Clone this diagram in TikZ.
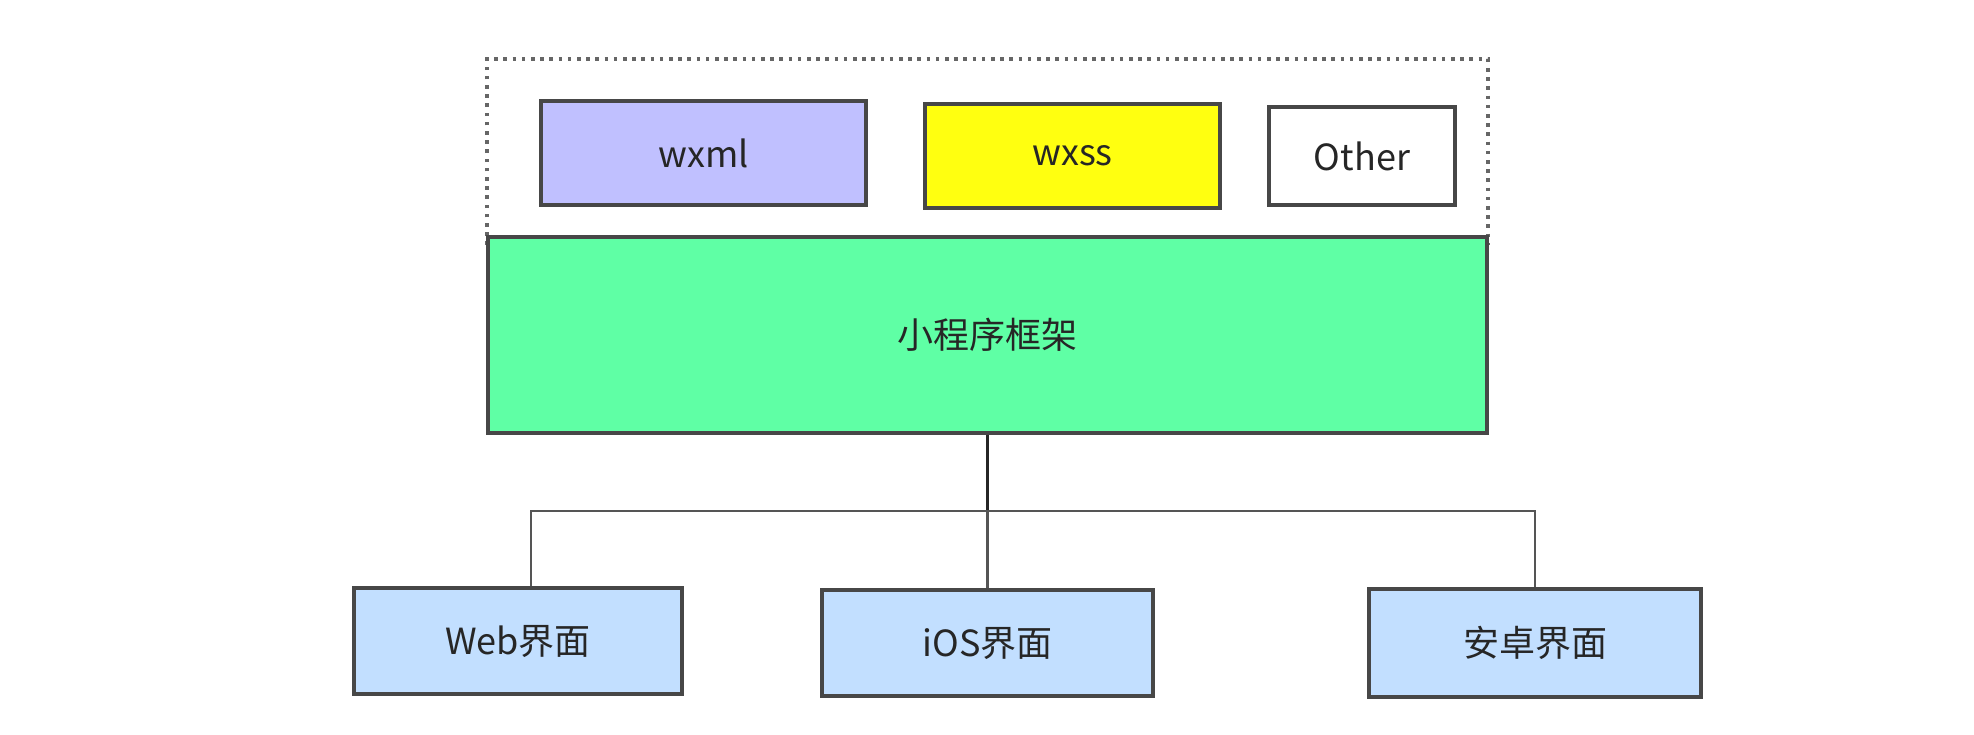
\documentclass[tikz,border=0pt]{standalone}
\usepackage{fontspec}
\setmainfont{Noto Sans CJK SC}
\definecolor{bordc}{HTML}{474747}
\definecolor{lavc}{HTML}{C0C0FF}
\definecolor{yelc}{HTML}{FFFF10}
\definecolor{grnc}{HTML}{5FFFA5}
\definecolor{bluc}{HTML}{C2DFFF}
\definecolor{linec}{HTML}{555555}
\begin{document}
\begin{tikzpicture}[x=0.5pt,y=-0.5pt,
  boxst/.style={draw=bordc, line width=1.9pt, font=\fontsize{18}{21}\selectfont, text=black!85},
  conn/.style={draw=linec, line width=1.3pt}]
\useasboundingbox (0,0) rectangle (1974,734);
\draw[black!60, line width=2pt, dash pattern=on 1.8pt off 2.8pt] (487,245) -- (487,59) -- (1488,59) -- (1488,245);
\node[boxst, fill=lavc, minimum width=325pt*0.5, minimum height=104pt*0.5] (wxml) at (703.5,153) {wxml};
\node[boxst, fill=yelc, minimum width=295pt*0.5, minimum height=103.5pt*0.5] (wxss) at (1072.5,156) {wxss};
\node[boxst, fill=white, minimum width=186pt*0.5, minimum height=98pt*0.5] (other) at (1362,156) {Other};
\node[boxst, fill=grnc, minimum width=999pt*0.5, minimum height=196pt*0.5] (frame) at (987.5,335) {小程序框架};
\node[boxst, fill=bluc, minimum width=328pt*0.5, minimum height=106pt*0.5] (web) at (518,641) {Web界面};
\node[boxst, fill=bluc, minimum width=331pt*0.5, minimum height=106pt*0.5] (ios) at (987.5,643) {iOS界面};
\node[boxst, fill=bluc, minimum width=332pt*0.5, minimum height=108pt*0.5] (andr) at (1535,643) {安卓界面};
\coordinate (bus) at (987.5,511);
\draw[draw=black!85, line width=1.8pt] (frame.south) -- (bus);
\draw[conn] (web.north -| 531,0) |- (bus) -| (andr.north);
\draw[conn] (bus) -- (ios.north);
\end{tikzpicture}
\end{document}
